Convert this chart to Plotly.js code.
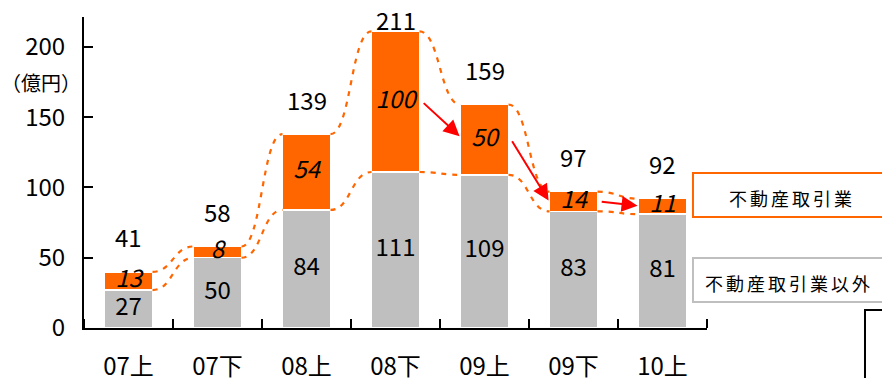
<!DOCTYPE html>
<html>
<head>
<meta charset="utf-8">
<script src="https://cdn.plot.ly/plotly-3.0.1.min.js"></script>
<style>
  html, body { margin: 0; padding: 0; background: #fff; }
  #chart { width: 882px; height: 378px; }
  /* 凡例ラベルの字間 */
  .annotation[data-index="11"] text,
  .annotation[data-index="12"] text { letter-spacing: 3px; }
</style>
</head>
<body>
<div id="chart"></div>
<script>
// 半期別の内訳（億円）
const periods = ['07上', '07下', '08上', '08下', '09上', '09下', '10上'];
const otherBiz = [27, 50, 84, 111, 109, 83, 81];     // 不動産取引業以外
const realEstate = [13, 8, 54, 100, 50, 14, 11];     // 不動産取引業
const totals = [41, 58, 139, 211, 159, 97, 92];      // 合計（表示値）
const yTicks = [0, 50, 100, 150, 200];

const FONT = '"Noto Sans CJK JP", "Noto Sans", sans-serif';
const ORANGE = '#FF6600';
const GRAY = '#BFBFBF';
const BAR_W = 0.54;
const FS = 24;

const xs = periods.map((_, i) => i);
const tops = otherBiz.map((v, i) => v + realEstate[i]);

const traces = [
  {
    type: 'bar', x: xs, y: otherBiz, width: BAR_W,
    marker: { color: GRAY, line: { color: '#fff', width: 1.5 } },
    hoverinfo: 'skip'
  },
  {
    type: 'bar', x: xs, y: realEstate, width: BAR_W,
    marker: { color: ORANGE, line: { color: '#fff', width: 1.5 } },
    hoverinfo: 'skip'
  },
  // 値ラベル（灰色部分の中央）
  {
    type: 'scatter', mode: 'text', x: xs,
    y: otherBiz.map(v => v / 2),
    text: otherBiz.map(String),
    textfont: { family: FONT, size: FS, color: '#000' },
    hoverinfo: 'skip'
  },
  // 値ラベル（オレンジ部分の中央・斜体）
  {
    type: 'scatter', mode: 'text', x: xs,
    y: otherBiz.map((v, i) => v + realEstate[i] / 2),
    text: realEstate.map(String),
    textfont: { family: FONT, size: FS, color: '#000', style: 'italic' },
    hoverinfo: 'skip'
  }
];

// 棒の肩同士をつなぐ点線（S字曲線）
function connector(levels) {
  const out = [];
  for (let i = 0; i < levels.length - 1; i++) {
    const x1 = i + BAR_W / 2, x2 = i + 1 - BAR_W / 2, xm = (x1 + x2) / 2;
    const y1 = levels[i], y2 = levels[i + 1];
    out.push({
      type: 'path', xref: 'x', yref: 'y',
      path: `M ${x1},${y1} C ${xm},${y1} ${xm},${y2} ${x2},${y2}`,
      line: { color: ORANGE, width: 2.2, dash: '5px,6px' }
    });
  }
  return out;
}

const shapes = [
  ...connector(tops),
  ...connector(otherBiz),
  // 凡例の枠
  { type: 'rect', xref: 'paper', yref: 'paper', x0: 0.9775, x1: 1.3, y0: 0.357, y1: 0.498,
    line: { color: ORANGE, width: 2 }, fillcolor: 'rgba(0,0,0,0)' },
  { type: 'rect', xref: 'paper', yref: 'paper', x0: 0.9775, x1: 1.3, y0: 0.0836, y1: 0.225,
    line: { color: GRAY, width: 2 }, fillcolor: 'rgba(0,0,0,0)' },
  // 右下の枠
  { type: 'rect', xref: 'paper', yref: 'paper', x0: 1.2536, x1: 1.5, y0: -0.4, y1: 0.058,
    line: { color: '#000', width: 2 }, fillcolor: 'rgba(0,0,0,0)' }
];

const annotations = [];
// 合計ラベル
totals.forEach((t, i) => {
  annotations.push({
    x: i, y: tops[i], xref: 'x', yref: 'y', text: String(t),
    showarrow: false, yshift: tops[i] > 200 ? 12 : 35,
    font: { family: FONT, size: FS, color: '#000' }
  });
});
// 減少を示す矢印（08下→09上→09下→10上）
for (let i = 3; i < periods.length - 1; i++) {
  annotations.push({
    xref: 'x', yref: 'y', axref: 'x', ayref: 'y',
    ax: i + BAR_W / 2 + 0.03, ay: otherBiz[i] + realEstate[i] * 0.5,
    x: i + 1 - BAR_W / 2 - 0.01, y: otherBiz[i + 1] + realEstate[i + 1] * 0.55,
    text: '', showarrow: true, arrowhead: 2, arrowsize: 1.6, arrowwidth: 2,
    arrowcolor: '#FF0000', standoff: 0, startstandoff: 0
  });
}
annotations.push(
  { xref: 'paper', yref: 'paper', x: -0.0695, y: 0.788, text: '（億円）',
    showarrow: false, xanchor: 'center', yanchor: 'middle',
    font: { family: FONT, size: 20, color: '#000' } },
  { xref: 'paper', yref: 'paper', x: 1.136, y: 0.418, text: '不動産取引業',
    showarrow: false, xanchor: 'center', yanchor: 'middle',
    font: { family: FONT, size: 18, color: '#000' } },
  { xref: 'paper', yref: 'paper', x: 1.0128, y: 0.1447, text: '不動産取引業以外',
    showarrow: false, xanchor: 'left', yanchor: 'middle',
    font: { family: FONT, size: 18, color: '#000' } }
);

const layout = {
  width: 882, height: 378,
  margin: { l: 84, r: 175, t: 17, b: 50 },
  paper_bgcolor: '#fff', plot_bgcolor: '#fff',
  barmode: 'stack', showlegend: false,
  font: { family: FONT, color: '#000' },
  xaxis: {
    range: [-0.5, 6.5], tickmode: 'array', tickvals: xs, ticktext: periods,
    ticks: '', showgrid: false, zeroline: false,
    showline: true, linecolor: '#000', linewidth: 2,
    tickfont: { family: FONT, size: FS, color: '#000' },
    ticklabelstandoff: 16,
    minor: { tick0: 0.5, dtick: 1, ticks: 'inside', ticklen: 9, tickwidth: 2, tickcolor: '#000', showgrid: false }
  },
  yaxis: {
    range: [0, 221.3], tickmode: 'array', tickvals: yTicks,
    ticks: 'inside', ticklen: 9, tickwidth: 2, tickcolor: '#000',
    showgrid: false, zeroline: false,
    showline: true, linecolor: '#000', linewidth: 2,
    tickfont: { family: FONT, size: FS, color: '#000' },
    ticklabelstandoff: 12
  },
  shapes: shapes,
  annotations: annotations
};

Plotly.newPlot('chart', traces, layout, { staticPlot: true, displayModeBar: false });
</script>
</body>
</html>
